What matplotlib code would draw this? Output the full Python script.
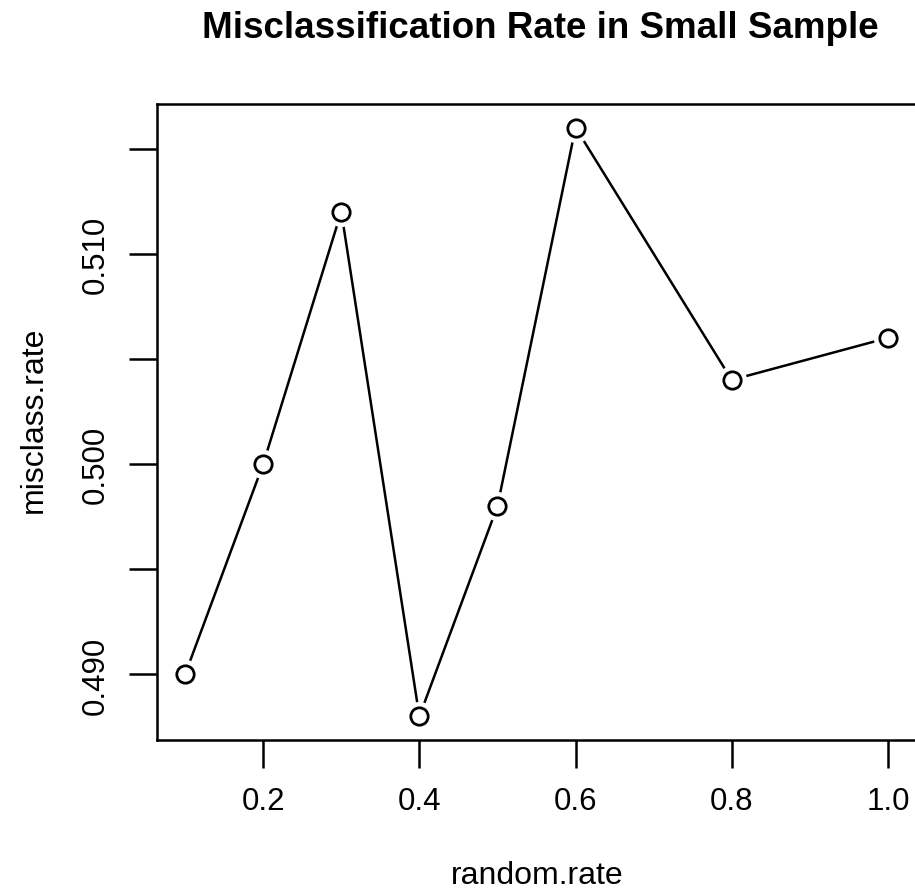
"""R 风格的 type='b' 折线图：小样本误分类率。"""

import matplotlib

matplotlib.use("Agg")
import matplotlib.pyplot as plt

random_rate = [0.1, 0.2, 0.3, 0.4, 0.5, 0.6, 0.8, 1.0]
misclass_rate = [0.490, 0.500, 0.512, 0.488, 0.498, 0.516, 0.504, 0.506]

x_ticks = [0.2, 0.4, 0.6, 0.8, 1.0]
x_tick_labels = ["0.2", "0.4", "0.6", "0.8", "1.0"]
y_ticks = [0.490, 0.495, 0.500, 0.505, 0.510, 0.515]
y_tick_labels = ["0.490", "", "0.500", "", "0.510", ""]

W, H = 915, 895

plt.rcParams["font.family"] = ["Liberation Sans", "DejaVu Sans"]

fig = plt.figure(figsize=(W / 100, H / 100), dpi=100)
ax = fig.add_axes([157 / W, 1 - 741 / H, 759 / W, 636 / H])

ax.plot(random_rate, misclass_rate, color="black", linewidth=1.8, zorder=1)
# 白色底圈制造 R 里线与点之间的空隙
ax.plot(random_rate, misclass_rate, linestyle="none", marker="o", markersize=21,
        markerfacecolor="white", markeredgecolor="none", zorder=2)
ax.plot(random_rate, misclass_rate, linestyle="none", marker="o", markersize=12.5,
        markerfacecolor="white", markeredgecolor="black", markeredgewidth=2, zorder=3)

pad_x = 0.04 * (max(random_rate) - min(random_rate))
pad_y = 0.04 * (max(misclass_rate) - min(misclass_rate))
ax.set_xlim(min(random_rate) - pad_x, max(random_rate) + pad_x)
ax.set_ylim(min(misclass_rate) - pad_y, max(misclass_rate) + pad_y)

ax.set_xticks(x_ticks)
ax.set_xticklabels(x_tick_labels)
ax.set_yticks(y_ticks)
ax.set_yticklabels(y_tick_labels, rotation=90, va="center")
ax.tick_params(direction="out", length=20, width=1.8, labelsize=22.5, pad=13)

for spine in ax.spines.values():
    spine.set_linewidth(1.8)

ax.set_xlabel("random.rate", fontsize=23)
ax.xaxis.set_label_coords(537 / W, 1 - 861 / H, transform=fig.transFigure)
ax.set_ylabel("misclass.rate", fontsize=23)
ax.yaxis.set_label_coords(49 / W, 1 - 420 / H, transform=fig.transFigure)

fig.text(540 / W, 1 - 38 / H, "Misclassification Rate in Small Sample",
         fontsize=26.5, fontweight="bold", ha="center", va="baseline")

fig.savefig("out.png", dpi=100)
